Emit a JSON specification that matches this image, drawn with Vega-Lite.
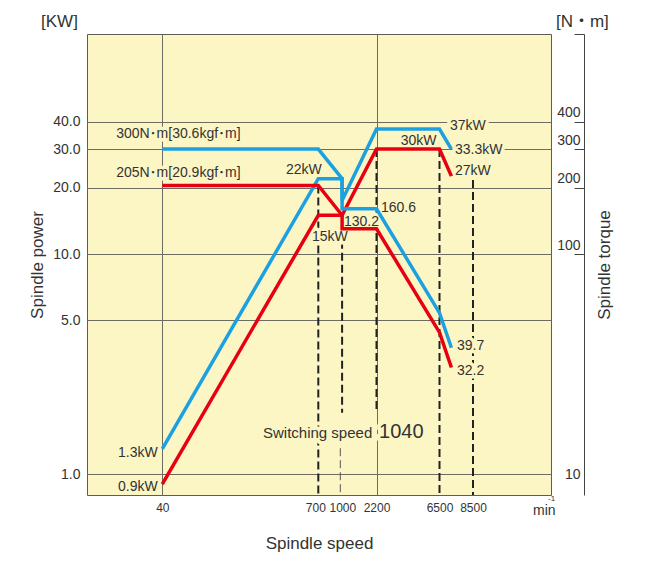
{
  "$schema": "https://vega.github.io/schema/vega-lite/v6.json",
  "width": 464,
  "height": 461,
  "autosize": {"type": "none"},
  "padding": {"left": 87, "top": 34, "right": 101, "bottom": 77},
  "background": "#ffffff",
  "config": {
    "view": {"fill": "#fcf6c5", "stroke": "#5f5c52", "strokeWidth": 1},
    "font": "Liberation Sans, Noto Sans CJK JP",
    "axis": {"labelColor": "#333333", "titleColor": "#333333", "labelFont": "Liberation Sans", "titleFont": "Liberation Sans", "titleFontWeight": "normal", "gridColor": "#6e6b60", "gridWidth": 1}
  },
  "datasets": {
    "power": [
      {"speed": 40, "kw": 1.3, "rating": "short-time"},
      {"speed": 700, "kw": 22, "rating": "short-time"},
      {"speed": 1040, "kw": 22, "rating": "short-time"},
      {"speed": 1040, "kw": 17.5, "rating": "short-time"},
      {"speed": 2200, "kw": 37, "rating": "short-time"},
      {"speed": 6500, "kw": 37, "rating": "short-time"},
      {"speed": 7150, "kw": 30, "rating": "short-time"},
      {"speed": 40, "kw": 0.9, "rating": "continuous"},
      {"speed": 700, "kw": 15, "rating": "continuous"},
      {"speed": 1040, "kw": 15, "rating": "continuous"},
      {"speed": 2200, "kw": 30, "rating": "continuous"},
      {"speed": 6500, "kw": 30, "rating": "continuous"},
      {"speed": 7150, "kw": 22.6, "rating": "continuous"}
    ],
    "torque": [
      {"speed": 40, "nm": 300, "rating": "short-time"},
      {"speed": 700, "nm": 300, "rating": "short-time"},
      {"speed": 1040, "nm": 220, "rating": "short-time"},
      {"speed": 1040, "nm": 160.6, "rating": "short-time"},
      {"speed": 2200, "nm": 160.6, "rating": "short-time"},
      {"speed": 6500, "nm": 54, "rating": "short-time"},
      {"speed": 7150, "nm": 37.5, "rating": "short-time"},
      {"speed": 40, "nm": 205, "rating": "continuous"},
      {"speed": 700, "nm": 205, "rating": "continuous"},
      {"speed": 1040, "nm": 150, "rating": "continuous"},
      {"speed": 1040, "nm": 130.2, "rating": "continuous"},
      {"speed": 2200, "nm": 130.2, "rating": "continuous"},
      {"speed": 6500, "nm": 44, "rating": "continuous"},
      {"speed": 7150, "nm": 30.5, "rating": "continuous"}
    ],
    "guides": [
      {"speed": 700, "kw": 20.5, "kw2": 0.8027},
      {"speed": 1040, "kw": 13.02, "kw2": 1.9},
      {"speed": 2200, "kw": 30, "kw2": 1.9},
      {"speed": 6500, "kw": 30, "kw2": 0.8027},
      {"speed": 8500, "kw": 21.7, "kw2": 0.8027}
    ],
    "guidesThin": [
      {"speed": 1000, "kw": 1.31, "kw2": 0.8027}
    ],
    "labels": [
      {"speed": 17.1, "kw": 35.1, "label": "300N･m[30.6kgf･m]"},
      {"speed": 17.1, "kw": 23.4, "label": "205N･m[20.9kgf･m]"},
      {"speed": 387, "kw": 24.1, "label": "22kW"},
      {"speed": 624, "kw": 11.98, "label": "15kW"},
      {"speed": 1084, "kw": 14.0, "label": "130.2"},
      {"speed": 2377, "kw": 16.2, "label": "160.6"},
      {"speed": 3336, "kw": 32.7, "label": "30kW"},
      {"speed": 7071, "kw": 38.2, "label": "37kW"},
      {"speed": 7361, "kw": 29.7, "label": "33.3kW"},
      {"speed": 7361, "kw": 23.8, "label": "27kW"},
      {"speed": 7480, "kw": 3.83, "label": "39.7"},
      {"speed": 7480, "kw": 2.95, "label": "32.2"},
      {"speed": 17.7, "kw": 1.246, "label": "1.3kW"},
      {"speed": 17.7, "kw": 0.876, "label": "0.9kW"}
    ],
    "switchText": [{"speed": 253.8, "kw": 1.536, "label": "Switching speed"}],
    "switchValue": [{"speed": 2297, "kw": 1.552, "label": "1040"}],
    "units": [
      {"speed": 4.29, "kw": 113.7, "label": "[KW]"},
      {"speed": 32500, "kw": 113.7, "label": "[N・m]"}
    ],
    "minUnit": [{"speed": 22420, "kw": 0.679, "label": "min"}],
    "minExp": [{"speed": 28580, "kw": 0.77, "label": "-1"}]
  },
  "encoding": {
    "x": {
      "field": "speed",
      "type": "quantitative",
      "scale": {"type": "log", "domain": [10, 40, 700, 1000, 2200, 6500, 8500, 30000], "range": [0, 75.3, 231.3, 253.3, 289.5, 352.5, 386, 464], "nice": false},
      "axis": {
        "values": [40, 700, 1000, 2200, 6500, 8500],
        "format": "d",
        "ticks": false,
        "domain": false,
        "labelPadding": 7,
        "labelFontSize": 12,
        "labelOffset": {"condition": [{"test": "datum.value == 700", "value": -3}, {"test": "datum.value == 1000", "value": 2}], "value": 0},
        "labelOverlap": false,
        "labelFlush": false,
        "labelBound": false,
        "grid": true,
        "gridOpacity": {"condition": {"test": "datum.value == 40 || datum.value == 2200", "value": 1}, "value": 0},
        "title": "Spindle speed",
        "titleFontSize": 17,
        "titlePadding": 22
      }
    }
  },
  "layer": [
    {
      "encoding": {
        "y": {
          "field": "kw",
          "type": "quantitative",
          "scale": {"type": "log", "domain": [0.8027, 100], "nice": false},
          "axis": {
            "orient": "left",
            "values": [1, 5, 10, 20, 30, 40],
            "format": ".1f",
            "ticks": false,
            "domain": false,
            "labelPadding": 7,
            "labelFontSize": 14,
            "labelOverlap": false,
            "grid": true,
            "title": "Spindle power",
            "titleFontSize": 17,
            "titlePadding": 6
          }
        }
      },
      "layer": [
        {
          "data": {"name": "guides"},
          "mark": {"type": "rule", "strokeDash": [8, 4], "strokeWidth": 2, "color": "#222222"},
          "encoding": {"y2": {"field": "kw2"}}
        },
        {
          "data": {"name": "guidesThin"},
          "mark": {"type": "rule", "strokeDash": [8, 4], "strokeWidth": 1, "color": "#555555"},
          "encoding": {"y2": {"field": "kw2"}}
        },
        {
          "data": {"name": "labels"},
          "mark": {"type": "text", "align": "left", "baseline": "middle", "fontSize": 14, "fill": "#fcf6c5", "stroke": "#fcf6c5", "strokeWidth": 7, "strokeJoin": "round"},
          "encoding": {"text": {"field": "label"}}
        },
        {
          "data": {"name": "switchText"},
          "mark": {"type": "text", "align": "left", "baseline": "middle", "fontSize": 15, "fill": "#fcf6c5", "stroke": "#fcf6c5", "strokeWidth": 8, "strokeJoin": "round"},
          "encoding": {"text": {"field": "label"}}
        },
        {
          "data": {"name": "switchValue"},
          "mark": {"type": "text", "align": "left", "baseline": "middle", "fontSize": 20, "fill": "#fcf6c5", "stroke": "#fcf6c5", "strokeWidth": 8, "strokeJoin": "round"},
          "encoding": {"text": {"field": "label"}}
        },
        {
          "data": {"name": "power"},
          "mark": {"type": "line", "strokeWidth": 3.5, "strokeJoin": "miter", "strokeCap": "butt"},
          "encoding": {
            "color": {"field": "rating", "type": "nominal", "scale": {"domain": ["short-time", "continuous"], "range": ["#1ba1e2", "#e60012"]}, "legend": null},
            "order": {"value": null}
          }
        },
        {
          "data": {"name": "labels"},
          "mark": {"type": "text", "align": "left", "baseline": "middle", "fontSize": 14, "color": "#333333"},
          "encoding": {"text": {"field": "label"}}
        },
        {
          "data": {"name": "switchText"},
          "mark": {"type": "text", "align": "left", "baseline": "middle", "fontSize": 15, "color": "#333333"},
          "encoding": {"text": {"field": "label"}}
        },
        {
          "data": {"name": "switchValue"},
          "mark": {"type": "text", "align": "left", "baseline": "middle", "fontSize": 20, "color": "#333333"},
          "encoding": {"text": {"field": "label"}}
        },
        {
          "data": {"name": "units"},
          "mark": {"type": "text", "align": "left", "baseline": "middle", "fontSize": 17, "color": "#333333"},
          "encoding": {"text": {"field": "label"}}
        },
        {
          "data": {"name": "minUnit"},
          "mark": {"type": "text", "align": "left", "baseline": "middle", "fontSize": 14, "color": "#333333"},
          "encoding": {"text": {"field": "label"}}
        },
        {
          "data": {"name": "minExp"},
          "mark": {"type": "text", "align": "left", "baseline": "middle", "fontSize": 8, "color": "#333333"},
          "encoding": {"text": {"field": "label"}}
        }
      ]
    },
    {
      "data": {"name": "torque"},
      "mark": {"type": "line", "strokeWidth": 3.5, "strokeJoin": "miter", "strokeCap": "butt"},
      "encoding": {
        "y": {
          "field": "nm",
          "type": "quantitative",
          "scale": {"type": "log", "domain": [8.027, 1000], "nice": false},
          "axis": {
            "orient": "right",
            "offset": 33,
            "values": [10, 100, 200, 300, 400, 1000],
            "labelExpr": "datum.value == 1000 ? '' : datum.label",
            "format": "d",
            "grid": false,
            "ticks": true,
            "tickSize": -10,
            "tickColor": "#444444",
            "tickOpacity": {"condition": {"test": "datum.value == 10", "value": 0}, "value": 1},
            "domain": true,
            "domainColor": "#444444",
            "labelAlign": "right",
            "labelPadding": 6,
            "labelFontSize": 14,
            "labelOverlap": false,
            "labelBaseline": {"condition": {"test": "datum.value == 10", "value": "middle"}, "value": "alphabetic"},
            "labelOffset": {"condition": {"test": "datum.value == 10", "value": 0}, "value": -5},
            "title": "Spindle torque",
            "titleAngle": 270,
            "titleBaseline": "top",
            "titleFontSize": 17,
            "titlePadding": 12
          }
        },
        "color": {"field": "rating", "type": "nominal", "scale": {"domain": ["short-time", "continuous"], "range": ["#1ba1e2", "#e60012"]}, "legend": null},
        "order": {"value": null}
      }
    }
  ],
  "resolve": {"scale": {"y": "independent"}}
}
